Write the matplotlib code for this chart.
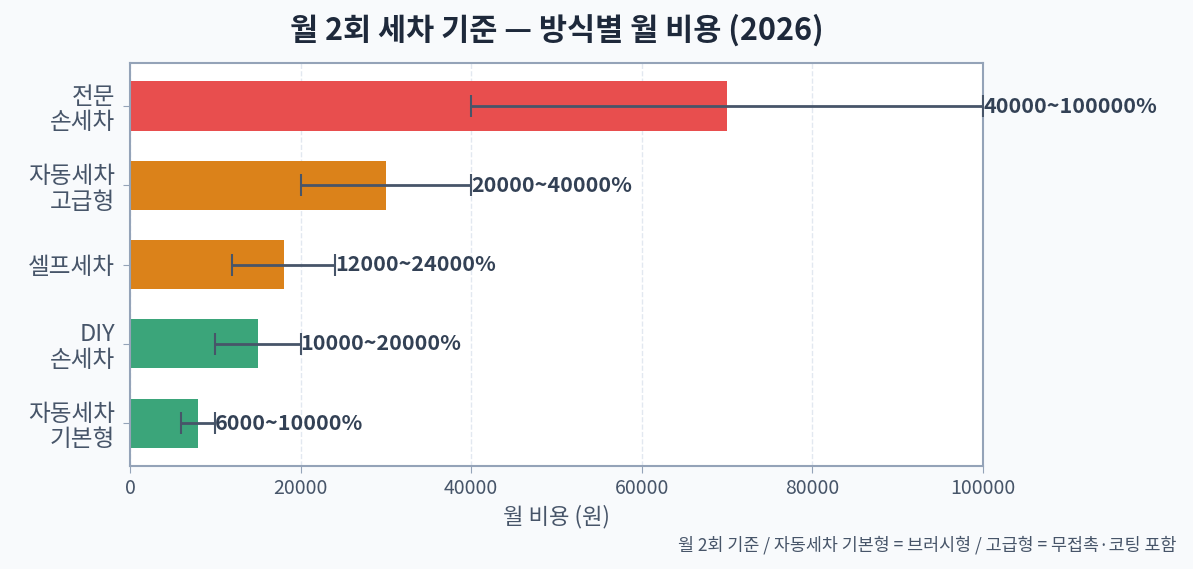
import matplotlib
matplotlib.use("Agg")
import matplotlib.pyplot as plt

plt.rcParams['font.family'] = ['Noto Sans CJK KR', 'DejaVu Sans']

# data (bottom to top)
methods = ['자동세차\n기본형', 'DIY\n손세차', '셀프세차', '자동세차\n고급형', '전문\n손세차']
costs = [8000, 15000, 18000, 30000, 70000]
low = [6000, 10000, 12000, 20000, 40000]
high = [10000, 20000, 24000, 40000, 100000]
colors = ['#3BA57A', '#3BA57A', '#DB821A', '#DB821A', '#E84E4E']

fig, ax = plt.subplots(figsize=(11.93, 5.69), dpi=100)
fig.patch.set_facecolor('#F8FAFC')
ax.set_facecolor('white')

err = [[c - l for c, l in zip(costs, low)], [h - c for c, h in zip(costs, high)]]
ax.barh(methods, costs, height=0.62, color=colors, zorder=2)
ax.errorbar(costs, range(len(methods)), xerr=err, fmt='none', ecolor='#475569',
            elinewidth=2, capsize=8, capthick=1.5, zorder=3)

for i, (l, h) in enumerate(zip(low, high)):
    ax.text(h, i, f'{l}~{h}%', va='center', ha='left', fontsize=15.5,
            fontweight='bold', color='#334155', zorder=4)

ax.set_xlim(0, 100000)
ax.grid(axis='x', linestyle='--', color='#E2E8F0', linewidth=1, zorder=0)
ax.set_axisbelow(True)
for s in ax.spines.values():
    s.set_color('#94A3B8')
    s.set_linewidth(1.5)
ax.tick_params(axis='y', labelsize=17, colors='#94A3B8', labelcolor='#475569', length=5, pad=6)
for t in ax.get_yticklabels():
    t.set_linespacing(1.15)
ax.tick_params(axis='x', labelsize=14, colors='#94A3B8', labelcolor='#475569', length=5)

ax.set_xlabel('월 비용 (원)', fontsize=16, color='#475569', labelpad=4)
ax.set_title('월 2회 세차 기준 — 방식별 월 비용 (2026)', fontsize=22, fontweight='bold',
             color='#1E293B', pad=17)
fig.text(0.986, 0.025, '월 2회 기준 / 자동세차 기본형 = 브러시형 / 고급형 = 무접촉·코팅 포함',
         ha='right', va='bottom', fontsize=12.5, color='#475569')

fig.subplots_adjust(left=0.109, right=0.824, top=0.889, bottom=0.181)
fig.savefig('out.png', dpi=100, facecolor=fig.get_facecolor())
